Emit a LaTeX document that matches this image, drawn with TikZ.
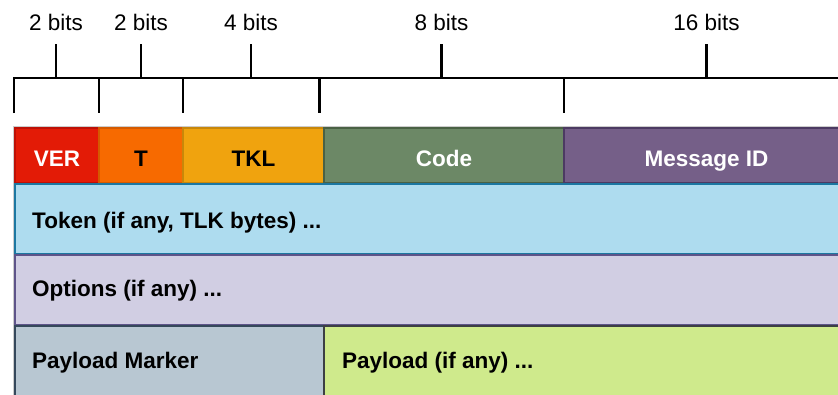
\documentclass[tikz,border=0pt]{standalone}
\usepackage{fontspec}
\setmainfont{Liberation Sans}
\definecolor{verfill}{HTML}{E31B06}
\definecolor{verline}{HTML}{BE1005}
\definecolor{tfill}{HTML}{F76A00}
\definecolor{tline}{HTML}{D45A00}
\definecolor{tklfill}{HTML}{F0A30E}
\definecolor{tklline}{HTML}{C8870A}
\definecolor{codefill}{HTML}{6C8866}
\definecolor{codeline}{HTML}{4A6144}
\definecolor{midfill}{HTML}{755F88}
\definecolor{midline}{HTML}{4C3A62}
\definecolor{tokfill}{HTML}{AEDCEF}
\definecolor{tokline}{HTML}{1C77A1}
\definecolor{optfill}{HTML}{D1CEE3}
\definecolor{optline}{HTML}{5E5489}
\definecolor{pmfill}{HTML}{B8C7D2}
\definecolor{pmline}{HTML}{35485B}
\definecolor{plfill}{HTML}{CFEA8C}
\definecolor{plline}{HTML}{3C3F44}
\tikzset{
  bitlabel/.style={font=\fontsize{22.5}{25}\selectfont, inner sep=0pt, anchor=base},
  fieldtext/.style={font=\fontsize{22.5}{25}\selectfont\bfseries, inner sep=0pt, anchor=base},
  rowtext/.style={fieldtext, anchor=base west},
  bracket/.style={line width=2.6pt, black},
}
\newcommand{\field}[6]{% name, x1, y1, x2, y2, fill/line prefix
  \path[fill=#6fill, draw=#6line, line width=2.4pt] (#2,#3) rectangle (#4,#5);
  \coordinate (#1) at ({(#2+#4)/2},166);
}
\begin{document}
\begin{tikzpicture}[x=1pt,y=-1pt]
\useasboundingbox (0,0) rectangle (838,394);
\clip (0,0) rectangle (838,394);

% bit-width brackets
\draw[bracket] (14,113) -- (14,78) -- (850,78);
\foreach \x in {99,183,319.5,564} \draw[bracket] (\x,78) -- (\x,113);
\foreach \x in {56,141,251,441.5,706.5} \draw[bracket] (\x,78) -- (\x,44);
\node[bitlabel] (b1) at (56,30.7) {2 bits};
\node[bitlabel] (b2) at (141,30.7) {2 bits};
\node[bitlabel] (b3) at (251,30.7) {4 bits};
\node[bitlabel] (b4) at (441.5,30.7) {8 bits};
\node[bitlabel] (b5) at (706.5,30.7) {16 bits};

% fixed header
\draw[black!20, line width=1pt] (13,395) -- (13,126) -- (840,126);
\field{ver}{15}{128}{99}{183}{ver}
\field{t}{99}{128}{183}{183}{t}
\field{tkl}{183}{128}{324}{183}{tkl}
\field{code}{324}{128}{564}{183}{code}
\field{mid}{564}{128}{850}{183}{mid}
\node[fieldtext, text=white] (verlbl) at (ver) {VER};
\node[fieldtext] (tlbl) at (t) {T};
\node[fieldtext] (tkllbl) at (tkl) {TKL};
\node[fieldtext, text=white] (codelbl) at (code) {Code};
\node[fieldtext, text=white] (midlbl) at (706.5,166) {Message ID};

% variable-length rows
\field{tok}{15}{184}{850}{254}{tok}
\field{opt}{15}{255}{850}{325}{opt}
\field{pm}{15}{326}{324}{400}{pm}
\field{pl}{324}{326}{850}{400}{pl}
\node[rowtext] (toklbl) at (32,228.3) {Token (if any, TLK bytes) ...};
\node[rowtext] (optlbl) at (32,296.7) {Options (if any) ...};
\node[rowtext] (pmlbl) at (32,368.3) {Payload Marker};
\node[rowtext] (pllbl) at (342,368.3) {Payload (if any) ...};
\end{tikzpicture}
\end{document}
